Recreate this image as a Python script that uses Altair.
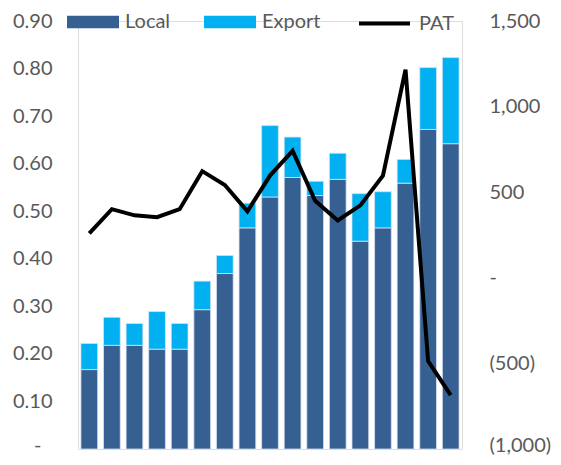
import altair as alt
import pandas as pd

periods = [f"P{i}" for i in range(1, 18)]
local = [0.167, 0.218, 0.218, 0.210, 0.210, 0.293, 0.369, 0.465, 0.530,
         0.571, 0.533, 0.567, 0.437, 0.465, 0.559, 0.672, 0.642]
export = [0.055, 0.059, 0.046, 0.079, 0.054, 0.060, 0.038, 0.052, 0.150,
          0.085, 0.030, 0.055, 0.100, 0.076, 0.050, 0.130, 0.181]
pat = [260, 401, 365, 354, 401, 623, 542, 388, 597, 741, 450, 335, 423,
       597, 1216, -487, -685]

left_ticks = [0, 0.1, 0.2, 0.3, 0.4, 0.5, 0.6, 0.7, 0.8, 0.9]
right_ticks = [-1000, -500, 0, 500, 1000, 1500]

rows = []
for p, l, e in zip(periods, local, export):
    rows.append({"period": p, "series": "Local", "value": l, "ord": 0})
    rows.append({"period": p, "series": "Export", "value": e, "ord": 1})
bar_df = pd.DataFrame(rows)
line_df = pd.DataFrame({"period": periods, "pat": pat, "label": "PAT"})

FONT = "Lato"
GRAY = "#595959"
FS = 20

xenc = alt.X("period:N", sort=periods, axis=None,
             scale=alt.Scale(paddingInner=0.26, paddingOuter=0.13))

bars = alt.Chart(bar_df).mark_bar(stroke="#dae3f3", strokeWidth=0.75).encode(
    x=xenc,
    y=alt.Y("value:Q", stack="zero",
            scale=alt.Scale(domain=[0, 0.9], nice=False, zero=True),
            axis=alt.Axis(orient="left", values=left_ticks, grid=False, ticks=False,
                          domain=False, title=None,
                          labelPadding={"condition": {"test": "datum.value == 0", "value": 37}, "value": 26},
                          labelFontSize=FS, labelFont=FONT, labelColor=GRAY,
                          labelOffset={"condition": {"test": "datum.value == 0", "value": -4}, "value": 0},
                          labelExpr="datum.value == 0 ? '-' : format(datum.value, '.2f')")),
    color=alt.Color("series:N",
                    scale=alt.Scale(domain=["Local", "Export"], range=["#376092", "#00B0F0"]),
                    legend=alt.Legend(orient="none", legendX=-11, legendY=-25, direction="horizontal",
                                      title=None, symbolType="M-1,-0.24H1V0.24H-1Z",
                                      symbolSize=2704, symbolStrokeWidth=0, symbolOpacity=1,
                                      labelFontSize=FS, labelFont=FONT, labelColor=GRAY,
                                      labelOffset=6, columnPadding=33)),
    order=alt.Order("ord:Q"),
)

line = alt.Chart(line_df).mark_line(strokeWidth=4, strokeJoin="miter").encode(
    x=xenc,
    y=alt.Y("pat:Q",
            scale=alt.Scale(domain=[-1000, 1500], nice=False, zero=False),
            axis=alt.Axis(orient="right", values=right_ticks, grid=False, ticks=False,
                          domain=False, labelPadding=27, title=None,
                          labelFontSize=FS, labelFont=FONT, labelColor=GRAY,
                          labelOffset={"condition": {"test": "datum.value == -1000", "value": -4}, "value": 0},
                          labelExpr="datum.value == 0 ? '-' : (datum.value < 0 ? '(' + format(-datum.value, ',') + ')' : format(datum.value, ','))")),
    stroke=alt.Stroke("label:N",
                      scale=alt.Scale(domain=["PAT"], range=["black"]),
                      legend=alt.Legend(orient="none", legendX=279, legendY=-25, title=None,
                                        symbolType="stroke", symbolSize=2601, symbolStrokeWidth=4,
                                        labelFontSize=FS, labelFont=FONT, labelColor=GRAY,
                                        labelOffset=7)),
)

chart = alt.layer(bars, line).resolve_scale(y="independent", color="independent").properties(
    width=384, height=428,
    autosize=alt.AutoSizeParams(type="none"),
    padding={"left": 70, "top": 13, "right": 91, "bottom": 8},
).configure_view(stroke=None).configure(font=FONT)

chart.save("out.html", embed_options={"renderer": "svg", "actions": False})
